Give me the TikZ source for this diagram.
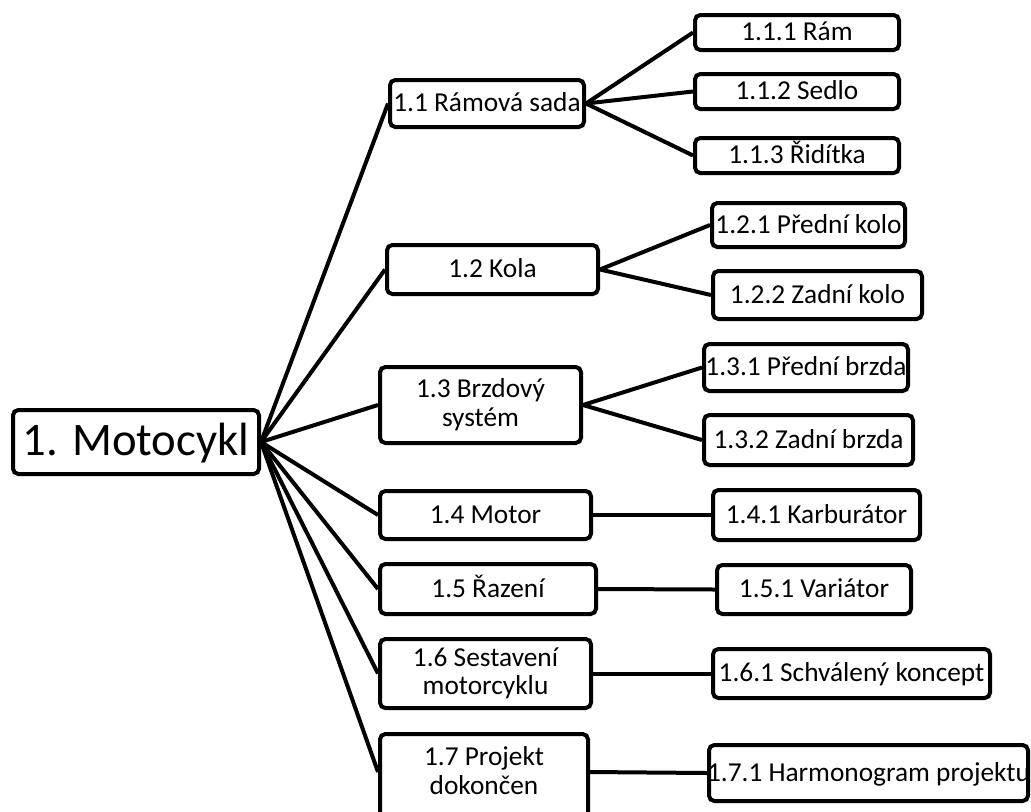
\documentclass[tikz,border=0pt]{standalone}
\usepackage{fontspec}
\setmainfont{Carlito}
% box: [text style]{name}{x1}{y1}{x2}{y2}{text}
\newcommand\mkbox[7][txt]{%
  \node[box, minimum width={(#5-#3-4)*0.75pt}, minimum height={(#6-#4-4)*0.75pt}] (#2) at ({(#3+#5)/2},{(#4+#6)/2}) {};
  \node[#1, yshift=-6pt] (#2-t) at (#2.center) {#7};}
\begin{document}
\begin{tikzpicture}[x=0.75pt,y=-0.75pt,
  box/.style={draw, line width=3pt, rounded corners=4pt, fill=white, inner sep=0pt},
  txt/.style={anchor=base, inner sep=0pt, font=\fontsize{20.5}{24}\selectfont},
  roottxt/.style={anchor=base, inner sep=0pt, font=\fontsize{35}{40}\selectfont, yshift=-3.75pt},
  link/.style={line width=3pt}]
\path[use as bounding box] (0,0) rectangle (1031,811);
% root
\mkbox[roottxt]{r}{11}{408}{261}{476}{1. Motocykl}
% level 2
\mkbox{a}{388}{78}{586}{129}{1.1 Rámová sada}
\mkbox{b}{385}{243}{600}{296}{1.2 Kola}
\node[box, minimum width={(583-378-4)*0.75pt}, minimum height={(445-365-4)*0.75pt}] (c) at ({(378+583)/2},{(365+445)/2}) {};
\node[txt, yshift=5.6pt] (c-ta) at (c.center) {1.3 Brzdový};
\node[txt, yshift=-16.1pt] (c-tb) at (c.center) {systém};
\mkbox{d}{378}{489}{593}{541}{1.4 Motor}
\mkbox{e}{378}{562}{598}{616}{1.5 Řazení}
\node[box, minimum width={(593-378-4)*0.75pt}, minimum height={(710-637-4)*0.75pt}] (f) at ({(378+593)/2},{(637+710)/2}) {};
\node[txt, yshift=5.6pt] (f-ta) at (f.center) {1.6 Sestavení};
\node[txt, yshift=-16.1pt] (f-tb) at (f.center) {motorcyklu};
\node[box, minimum width={(590-378-4)*0.75pt}, minimum height={(822-732-4)*0.75pt}] (g) at ({(378+590)/2},{(732+822)/2}) {};
\node[txt] (g-ta) at (484,765) {1.7 Projekt};
\node[txt] (g-tb) at (484,794) {dokončen};
% level 3
\mkbox{a1}{693}{13}{901}{52}{1.1.1 Rám}
\mkbox{a2}{693}{72}{901}{111}{1.1.2 Sedlo}
\mkbox{a3}{693}{136}{901}{175}{1.1.3 Řidítka}
\mkbox{b1}{710}{201}{907}{249}{1.2.1 Přední kolo}
\mkbox{b2}{711}{269}{924}{321}{1.2.2 Zadní kolo}
\mkbox{c1}{702}{342}{910}{393}{1.3.1 Přední brzda}
\mkbox{c2}{702}{413}{915}{467}{1.3.2 Zadní brzda}
\mkbox{d1}{711}{488}{922}{542}{1.4.1 Karburátor}
\mkbox{e1}{715}{563}{913}{616}{1.5.1 Variátor}
\mkbox{f1}{711}{647}{992}{700}{1.6.1 Schválený koncept}
\mkbox{g1}{707}{743}{1030}{803}{1.7.1 Harmonogram projektu}
% connectors
\foreach \t in {a,b,c,d,e,f} \draw[link] (r.east) -- (\t.west);
\draw[link] (r.east) -- ([yshift=3.75pt]g.west);
\foreach \s/\t in {a/a1,a/a2,a/a3,b/b1,b/b2,c/c1,c/c2,d/d1,e/e1,f/f1} \draw[link] (\s.east) -- (\t.west);
\draw[link] ([yshift=3.75pt]g.east) -- (g1.west);
\end{tikzpicture}
\end{document}
